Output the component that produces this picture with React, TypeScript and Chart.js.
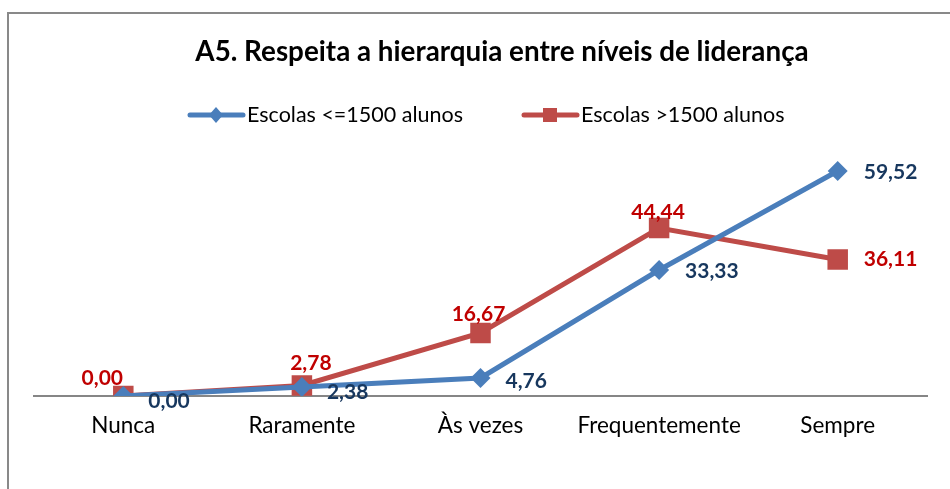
import React, { useEffect, useRef } from "react";
import { Chart, registerables } from "chart.js";

Chart.register(...registerables);

const titleText = "A5. Respeita a hierarquia entre níveis de liderança";
const categories = ["Nunca", "Raramente", "Às vezes", "Frequentemente", "Sempre"];
const seriesNames = ["Escolas <=1500 alunos", "Escolas >1500 alunos"];
const smallSchools = [0.0, 2.38, 4.76, 33.33, 59.52];
const largeSchools = [0.0, 2.78, 16.67, 44.44, 36.11];

// label placement styles (offsets from point, in px)
const smallLabelOffsets = [[25, 5], [25, 5], [25, 3], [26, 1], [26, 1]];
const largeLabelOffsets = [[-21, -18], [9, -22], [-2, -19], [-1, -16], [26, 0]];
const smallAlign = ["left", "left", "left", "left", "left"];
const largeAlign = ["center", "center", "center", "center", "left"];

const FONT = "Lato, 'Open Sans', sans-serif";

const fmt = (v: number) => v.toFixed(2).replace(".", ",");

const labelsPlugin = {
  id: "valueLabels",
  afterDatasetsDraw(chart: any) {
    const ctx = chart.ctx;
    const cfg = [
      { offs: smallLabelOffsets, align: smallAlign, color: "#17375E" },
      { offs: largeLabelOffsets, align: largeAlign, color: "#C00000" },
    ];
    chart.data.datasets.forEach((ds: any, di: number) => {
      const meta = chart.getDatasetMeta(di);
      meta.data.forEach((pt: any, i: number) => {
        const c = cfg[di];
        ctx.save();
        ctx.font = `bold 21px ${FONT}`;
        ctx.fillStyle = c.color;
        ctx.textAlign = c.align[i];
        ctx.textBaseline = "middle";
        ctx.fillText(fmt(ds.data[i]), pt.x + c.offs[i][0], pt.y + c.offs[i][1]);
        ctx.restore();
      });
    });
  },
};

const titlePlugin = {
  id: "offsetTitle",
  afterDraw(chart: any) {
    const ctx = chart.ctx;
    ctx.save();
    ctx.font = `bold 27.8px ${FONT}`;
    ctx.fillStyle = "#000";
    ctx.textAlign = "center";
    ctx.textBaseline = "middle";
    ctx.fillText(titleText, 502, 52);
    ctx.restore();
  },
};

const legendPlugin = {
  id: "lineLegend",
  afterDraw(chart: any) {
    const ctx = chart.ctx;
    const items = [
      { x: 188, color: "#4A7EBB", style: "diamond", text: seriesNames[0] },
      { x: 522, color: "#BE4B48", style: "square", text: seriesNames[1] },
    ];
    const y = 115;
    items.forEach((it) => {
      ctx.save();
      ctx.strokeStyle = it.color;
      ctx.lineWidth = 5;
      ctx.lineCap = "round";
      ctx.beginPath();
      ctx.moveTo(it.x + 2, y);
      ctx.lineTo(it.x + 55, y);
      ctx.stroke();
      const cx = it.x + 28;
      ctx.fillStyle = it.color;
      ctx.beginPath();
      if (it.style === "diamond") {
        ctx.moveTo(cx, y - 8);
        ctx.lineTo(cx + 7, y);
        ctx.lineTo(cx, y + 8);
        ctx.lineTo(cx - 7, y);
        ctx.closePath();
        ctx.fill();
      } else {
        ctx.fillRect(cx - 7, y - 7, 14, 14);
      }
      ctx.fillStyle = "#000";
      ctx.font = `21.5px ${FONT}`;
      ctx.textAlign = "left";
      ctx.textBaseline = "middle";
      ctx.fillText(it.text, it.x + 59, y);
      ctx.restore();
    });
  },
};

export default function App() {
  const ref = useRef<HTMLCanvasElement | null>(null);

  useEffect(() => {
    if (!ref.current) return;
    const chart = new Chart(ref.current, {
      type: "line",
      data: {
        labels: categories,
        datasets: [
          {
            label: seriesNames[0],
            data: smallSchools,
            borderColor: "#4A7EBB",
            backgroundColor: "#4A7EBB",
            borderWidth: 5,
            pointStyle: "rectRot",
            pointRadius: 10,
            pointBorderWidth: 0,
            tension: 0,
          },
          {
            label: seriesNames[1],
            data: largeSchools,
            borderColor: "#BE4B48",
            backgroundColor: "#BE4B48",
            borderWidth: 5,
            pointStyle: "rect",
            pointRadius: 14.5,
            pointBorderWidth: 0,
            tension: 0,
          },
        ],
      },
      options: {
        responsive: false,
        animation: false,
        layout: { padding: { left: 34, right: 23, top: 131.4, bottom: 34 } },
        plugins: {
          legend: { display: false },
          tooltip: { enabled: false },
          title: { display: false },
        },
        scales: {
          x: {
            offset: true,
            grid: { display: false, drawTicks: false },
            border: { display: true, color: "#868686", width: 2 },
            ticks: { color: "#000", font: { family: FONT, size: 22.5 }, padding: 16 },
          },
          y: {
            display: false,
            min: 0,
            max: 70,
          },
        },
      },
      plugins: [labelsPlugin, legendPlugin, titlePlugin],
    });
    return () => chart.destroy();
  }, []);

  return (
    <div style={{ position: "absolute", left: 0, top: 0, width: 950, height: 489, overflow: "hidden", background: "#fff" }}>
      <div
        style={{
          position: "absolute",
          left: 7,
          top: 12,
          width: 1000,
          height: 1000,
          borderLeft: "2px solid #898989",
          borderTop: "2px solid #898989",
        }}
      />
      <canvas ref={ref} width={950} height={489} style={{ position: "absolute", left: 0, top: 0 }} />
    </div>
  );
}
